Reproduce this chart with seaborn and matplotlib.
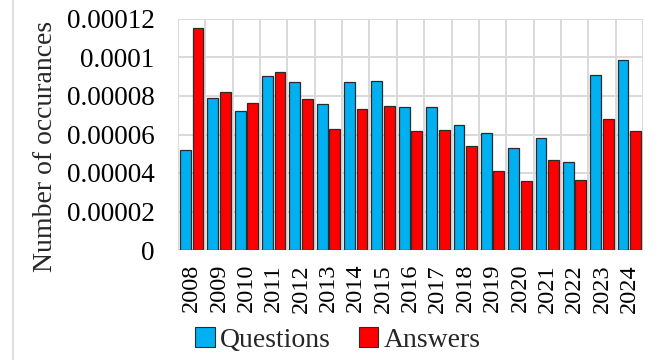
import matplotlib
matplotlib.use("Agg")
import matplotlib.pyplot as plt
from matplotlib.lines import Line2D
from matplotlib.patches import Patch
import numpy as np
import pandas as pd
import seaborn as sns

years = [str(y) for y in range(2008, 2025)]
questions = [5.21e-5, 7.91e-5, 7.24e-5, 9.04e-5, 8.71e-5, 7.58e-5, 8.74e-5, 8.76e-5,
             7.45e-5, 7.41e-5, 6.49e-5, 6.06e-5, 5.28e-5, 5.80e-5, 4.55e-5, 9.11e-5, 9.85e-5]
answers = [1.152e-4, 8.19e-5, 7.62e-5, 9.26e-5, 7.83e-5, 6.30e-5, 7.32e-5, 7.46e-5,
           6.20e-5, 6.25e-5, 5.40e-5, 4.12e-5, 3.57e-5, 4.68e-5, 3.62e-5, 6.79e-5, 6.20e-5]
series_names = ["Questions", "Answers"]
colors = {"Questions": "#00B0F0", "Answers": "#FF0000"}
y_ticks = [0, 0.00002, 0.00004, 0.00006, 0.00008, 0.0001, 0.00012]
y_tick_labels = ["0", "0.00002", "0.00004", "0.00006", "0.00008", "0.0001", "0.00012"]

df = pd.DataFrame({
    "year": years * 2,
    "value": questions + answers,
    "series": [series_names[0]] * len(years) + [series_names[1]] * len(years),
})

sns.set_theme(style="white")
plt.rcParams["font.family"] = ["Liberation Serif", "DejaVu Serif"]

fig = plt.figure(figsize=(6.58, 3.6), dpi=100)
ax = fig.add_axes([178 / 658, 1 - 250 / 360, (643 - 178) / 658, (250 - 19) / 360])

sns.barplot(data=df, x="year", y="value", hue="series", hue_order=series_names,
            palette=colors, width=0.92, gap=0.14, edgecolor="#2b2b2b", linewidth=0.9,
            saturation=1, legend=False, ax=ax, zorder=3)

grid_color = "#d9d9d9"
n = len(years)
ax.set_xlim(-0.5, n - 0.5)
ax.set_ylim(0, 0.00012)
ax.set_yticks(y_ticks)
ax.set_yticklabels(y_tick_labels)
for v in y_ticks:
    ax.axhline(v, color=grid_color, lw=1.4, zorder=1)
for b in np.arange(-0.5, n, 1.0):
    ax.axvline(b, color=grid_color, lw=1.4, zorder=1)

for s in ax.spines.values():
    s.set_visible(False)

ax.set_xticks(range(n))
ax.set_xticklabels(years, rotation=90)
ax.set_xticks(np.arange(-0.5, n, 1.0), minor=True)
ax.tick_params(axis="x", which="major", length=0, pad=10, labelsize=17.5, colors="black")
ax.tick_params(axis="x", which="minor", length=6, width=1.2, color=grid_color, direction="out")
ax.tick_params(axis="y", length=0, pad=17, labelsize=19.5, colors="black")
ax.set_xlabel("")
ax.set_ylabel("")

fig.text(46 / 658, 1 - 146 / 360, "Number of occurances", rotation=90,
         ha="center", va="center", fontsize=20)

handles = [Patch(facecolor=colors[s], edgecolor="#2b2b2b", linewidth=0.8) for s in series_names]
fig.legend(handles, series_names, loc="center", bbox_to_anchor=(338 / 658, 1 - 340 / 360),
           ncol=2, frameon=False, fontsize=20, handlelength=0.7, handleheight=0.7,
           handletextpad=0.2, columnspacing=1.0, borderpad=0)

fig.add_artist(Line2D([13 / 658, 13 / 658], [0, 1], color=grid_color, lw=1.2,
                      transform=fig.transFigure))

fig.savefig("out.png", dpi=100)
